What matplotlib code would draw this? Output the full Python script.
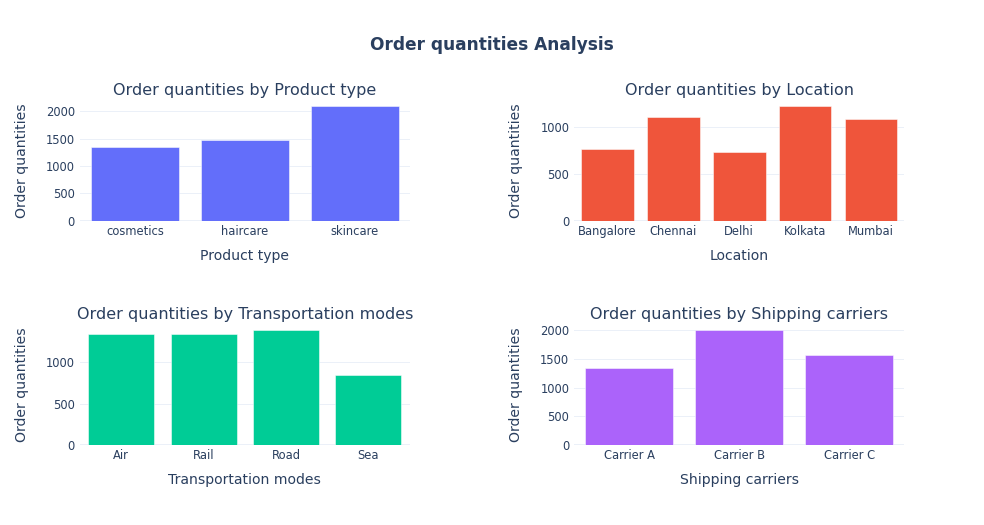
import matplotlib
matplotlib.use("Agg")
import matplotlib.pyplot as plt
from matplotlib.ticker import MultipleLocator

plt.rcParams['font.family'] = ['DejaVu Sans']

product_types = ["cosmetics", "haircare", "skincare"]
product_qty = [1343, 1476, 2099]

locations = ["Bangalore", "Chennai", "Delhi", "Kolkata", "Mumbai"]
location_qty = [765, 1104, 733, 1226, 1083]

transport_modes = ["Air", "Rail", "Road", "Sea"]
transport_qty = [1340, 1340, 1388, 850]

carriers = ["Carrier A", "Carrier B", "Carrier C"]
carrier_qty = [1336, 1995, 1567]

TEXT = "#2a3f5f"
GRID = "#EBF0F8"
W, H = 984, 525

fig = plt.figure(figsize=(W / 72, H / 72), dpi=72)
fig.patch.set_facecolor("white")

# plot area: l=80, r=80, t=100, b=80 ; h-spacing 0.2, v-spacing 0.3
pw = 824 * 0.8 / 2
ph = 345 * 0.7 / 2
cols = [80, 80 + 824 - pw]
rows = [100, 100 + 345 - ph]

panels = [
    (product_types, product_qty, "#636EFA", "Product type", 500),
    (locations, location_qty, "#EF553B", "Location", 500),
    (transport_modes, transport_qty, "#00CC96", "Transportation modes", 500),
    (carriers, carrier_qty, "#AB63FA", "Shipping carriers", 500),
]

for i, (cats, vals, color, name, step) in enumerate(panels):
    r, c = divmod(i, 2)
    left = cols[c] / W
    bottom = (H - rows[r] - ph) / H
    ax = fig.add_axes([left, bottom, pw / W, ph / H])
    x = list(range(len(cats)))
    ax.bar(x, vals, width=0.8, color=color, edgecolor="white", linewidth=0.5, zorder=3)
    ax.set_xlim(-0.5, len(cats) - 0.5)
    ax.set_ylim(0, max(vals) * 1.053)
    ax.set_xticks(x)
    ax.set_xticklabels(cats)
    ax.yaxis.set_major_locator(MultipleLocator(step))
    for s in ax.spines.values():
        s.set_visible(False)
    ax.grid(axis="y", color=GRID, linewidth=1, zorder=0)
    ax.axhline(0, color=GRID, linewidth=2, zorder=1)
    ax.tick_params(axis="both", length=0, labelsize=11.5, labelcolor=TEXT)
    ax.tick_params(axis="y", pad=5)
    ax.tick_params(axis="x", pad=4)
    ax.set_xlabel(name, fontsize=14, color=TEXT, labelpad=11)
    ax.set_ylabel("Order quantities", fontsize=14, color=TEXT, labelpad=17)
    ax.set_title(f"Order quantities by {name}", fontsize=16, color=TEXT, pad=5)
    ax.set_facecolor("white")

fig.text(0.5, 1 - 45 / H, "Order quantities Analysis", ha="center", va="center",
         fontsize=17, fontweight="bold", color=TEXT)

fig.savefig("out.png", dpi=72, facecolor="white")
